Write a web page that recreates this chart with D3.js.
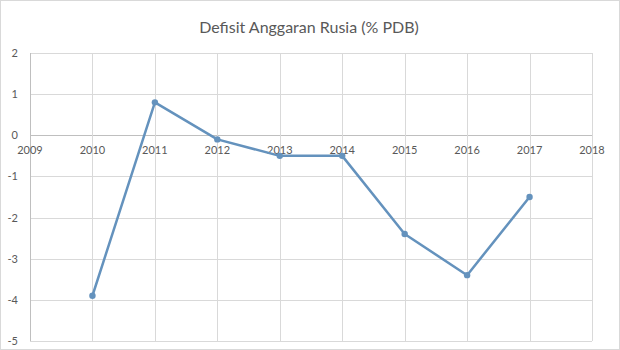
<!DOCTYPE html>
<html>
<head>
<meta charset="utf-8">
<script src="https://cdn.jsdelivr.net/npm/d3@7"></script>
<style>
  body { margin: 0; background: #fff; }
  text { font-family: Lato, "Open Sans", sans-serif; fill: #595959; }
</style>
</head>
<body>
<svg id="chart" width="620" height="350"></svg>
<script>
const years = [2010, 2011, 2012, 2013, 2014, 2015, 2016, 2017];
const deficit = [-3.9, 0.8, -0.1, -0.5, -0.5, -2.4, -3.4, -1.5];
const xTicks = [2009, 2010, 2011, 2012, 2013, 2014, 2015, 2016, 2017, 2018];
const yTicks = [2, 1, 0, -1, -2, -3, -4, -5];
const title = "Defisit  Anggaran Rusia (% PDB)";

const svg = d3.select("#chart");
const W = 620, H = 350;
const margin = { top: 53, right: 28, bottom: 9, left: 30 };

svg.append("rect")
    .attr("x", 0.5).attr("y", 0.5)
    .attr("width", W - 1).attr("height", H - 1)
    .attr("fill", "#fff")
    .attr("stroke", "#d9d9d9");

const x = d3.scaleLinear().domain([2009, 2018]).range([margin.left, W - margin.right]);
const y = d3.scaleLinear().domain([-5, 2]).range([H - margin.bottom, margin.top]);

const grid = svg.append("g");
grid.selectAll("line.h")
    .data(yTicks)
    .enter().append("line")
    .attr("class", "h")
    .attr("x1", x(2009)).attr("x2", x(2018))
    .attr("y1", d => Math.round(y(d)) + 0.5).attr("y2", d => Math.round(y(d)) + 0.5)
    .attr("stroke", d => d === 0 ? "#bfbfbf" : "#d9d9d9");
grid.selectAll("line.v")
    .data(xTicks)
    .enter().append("line")
    .attr("class", "v")
    .attr("y1", y(2)).attr("y2", y(-5))
    .attr("x1", d => Math.round(x(d)) + 0.5).attr("x2", d => Math.round(x(d)) + 0.5)
    .attr("stroke", d => d === 2009 ? "#bfbfbf" : "#d9d9d9");

// y tick labels, centred on their gridline
svg.append("g").selectAll("text")
    .data(yTicks)
    .enter().append("text")
    .attr("x", 18)
    .attr("y", d => y(d) + 4)
    .attr("text-anchor", "end")
    .attr("font-size", 11)
    .text(d => d);

// x tick labels sit just under the zero line
svg.append("g").selectAll("text")
    .data(xTicks)
    .enter().append("text")
    .attr("x", d => x(d))
    .attr("y", y(0) + 19)
    .attr("text-anchor", "middle")
    .attr("font-size", 11)
    .text(d => d);

const line = d3.line()
    .x((d, i) => x(years[i]))
    .y(d => y(d));

svg.append("path")
    .datum(deficit)
    .attr("d", line)
    .attr("fill", "none")
    .attr("stroke", "#6492bd")
    .attr("stroke-width", 2.5)
    .attr("stroke-linejoin", "round");

svg.append("g").selectAll("circle")
    .data(deficit)
    .enter().append("circle")
    .attr("cx", (d, i) => x(years[i]))
    .attr("cy", d => y(d))
    .attr("r", 3.2)
    .attr("fill", "#6492bd");

svg.append("text")
    .attr("x", 309)
    .attr("y", 33)
    .attr("text-anchor", "middle")
    .attr("font-size", 16)
    .text(title);
</script>
</body>
</html>
